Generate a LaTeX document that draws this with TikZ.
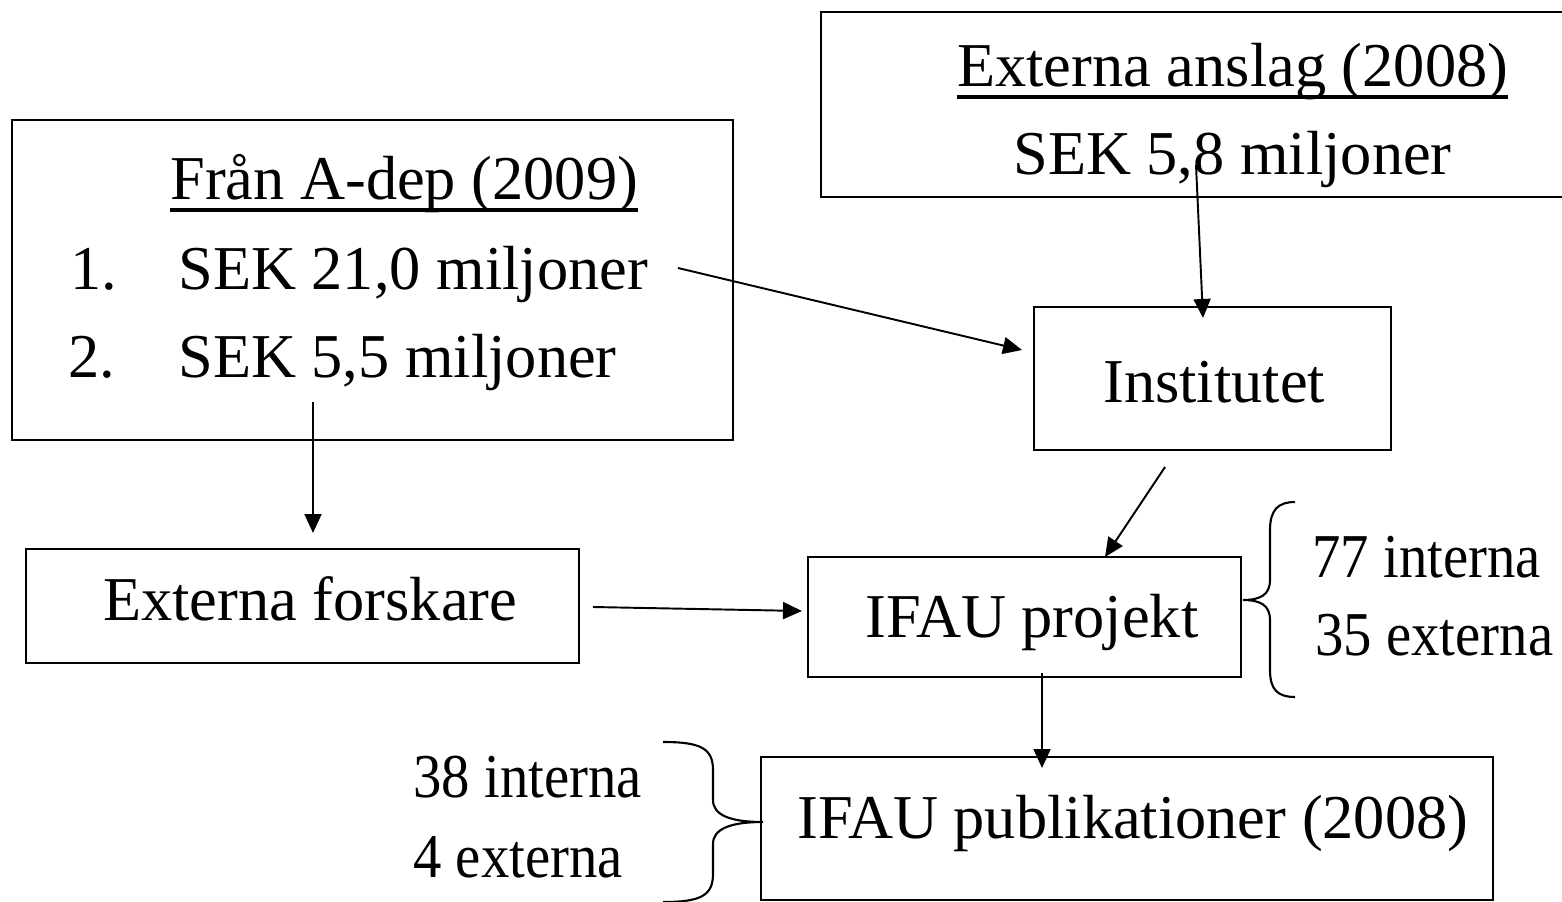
\documentclass[tikz,border=0pt]{standalone}
\usepackage{fontspec}
\setmainfont{Liberation Serif}
\usetikzlibrary{arrows.meta}

% thick underline for the box titles
\newcommand{\thickul}[1]{\setbox0=\hbox{#1}\rlap{\rule[-6.9pt]{\wd0}{2.2pt}}\box0}

\begin{document}
\begin{tikzpicture}[
    x=0.02cm, y=-0.02cm,
    box/.style={rectangle, draw=black, line width=1.1pt, inner sep=0pt},
    txt/.style={anchor=base west, inner sep=0pt, font=\fontsize{35.5}{43}\selectfont},
    small/.style={txt, font=\fontsize{35.5}{43}\selectfont\addfontfeature{FakeStretch=0.91}},
    arr/.style={-{Triangle[length=0.38cm, width=0.34cm]}, line width=1.1pt},
    brace/.style={line width=1.2pt}
]
\useasboundingbox (0,0) rectangle (1562,902);

% Boxes
\node[box, minimum width=14.42cm, minimum height=6.4cm] (adep) at (372.5,280) {};
\node[box, minimum width=14.98cm, minimum height=3.7cm] (anslag) at (1195.5,104.5) {};
\node[box, minimum width=7.14cm, minimum height=2.86cm] (inst) at (1212.5,378.5) {};
\node[box, minimum width=11.06cm, minimum height=2.28cm] (forsk) at (302.5,606) {};
\node[box, minimum width=8.66cm, minimum height=2.4cm] (proj) at (1024.5,617) {};
\node[box, minimum width=14.64cm, minimum height=2.86cm] (publ) at (1127,828.5) {};

% Texts
\node[txt] (adep_title) at (170,200) {\thickul{Från A-dep (2009)}};
\node[txt] (num1) at (70,290) {1.};
\node[txt] (sek21) at (178,290) {SEK 21,0 miljoner};
\node[txt] (num2) at (68,377) {2.};
\node[txt] (sek55) at (178,377) {SEK 5,5 miljoner};
\node[txt] (anslag_title) at (957,87) {\thickul{Externa anslag (2008)}};
\node[txt] (sek58) at (1013,175) {SEK 5,8 miljoner};
\node[txt] (inst_label) at (1103,402) {Institutet};
\node[txt] (forsk_label) at (103,620) {Externa forskare};
\node[txt] (proj_label) at (865,637) {IFAU projekt};
\node[txt] (publ_label) at (797,838) {IFAU publikationer (2008)};
\node[small] (int77) at (1312,577) {77 interna};
\node[small] (ext35) at (1315,655) {35 externa};
\node[small] (int38) at (413,797) {38 interna};
\node[small] (ext4) at (413,877) {4 externa};

% Arrow ends
\coordinate (sek21_out) at (678,268);
\coordinate (inst_in) at (1022,350);
\coordinate (sek58_out) at (1196,165);
\coordinate (inst_top) at (1203,318);
\coordinate (sek55_out) at (313,402);
\coordinate (forsk_top) at (313,533);
\coordinate (inst_out) at (1165,467);
\coordinate (proj_top) at (1105,557);
\coordinate (forsk_out) at (593,607);
\coordinate (proj_in) at (802,611);
\coordinate (proj_out) at (1042,673);
\coordinate (publ_top) at (1042,768);

% Arrows
\draw[arr] (sek21_out) -- (inst_in);
\draw[arr] (sek58_out) -- (inst_top);
\draw[arr] (sek55_out) -- (forsk_top);
\draw[arr] (inst_out) -- (proj_top);
\draw[arr] (forsk_out) -- (proj_in);
\draw[arr] (proj_out) -- (publ_top);

% Braces
\draw[brace] (1295,502) .. controls (1278,502) and (1270,510) .. (1270,530)
    -- (1270,580) .. controls (1270,595) and (1260,600) .. (1243,600)
    .. controls (1260,600) and (1270,605) .. (1270,620)
    -- (1270,670) .. controls (1270,690) and (1278,697) .. (1295,697);
\draw[brace] (663,742) .. controls (700,742) and (713,748) .. (713,770)
    -- (713,800) .. controls (713,815) and (730,822) .. (763,822)
    .. controls (730,822) and (713,829) .. (713,844)
    -- (713,874) .. controls (713,896) and (700,902) .. (663,902);

\end{tikzpicture}
\end{document}
